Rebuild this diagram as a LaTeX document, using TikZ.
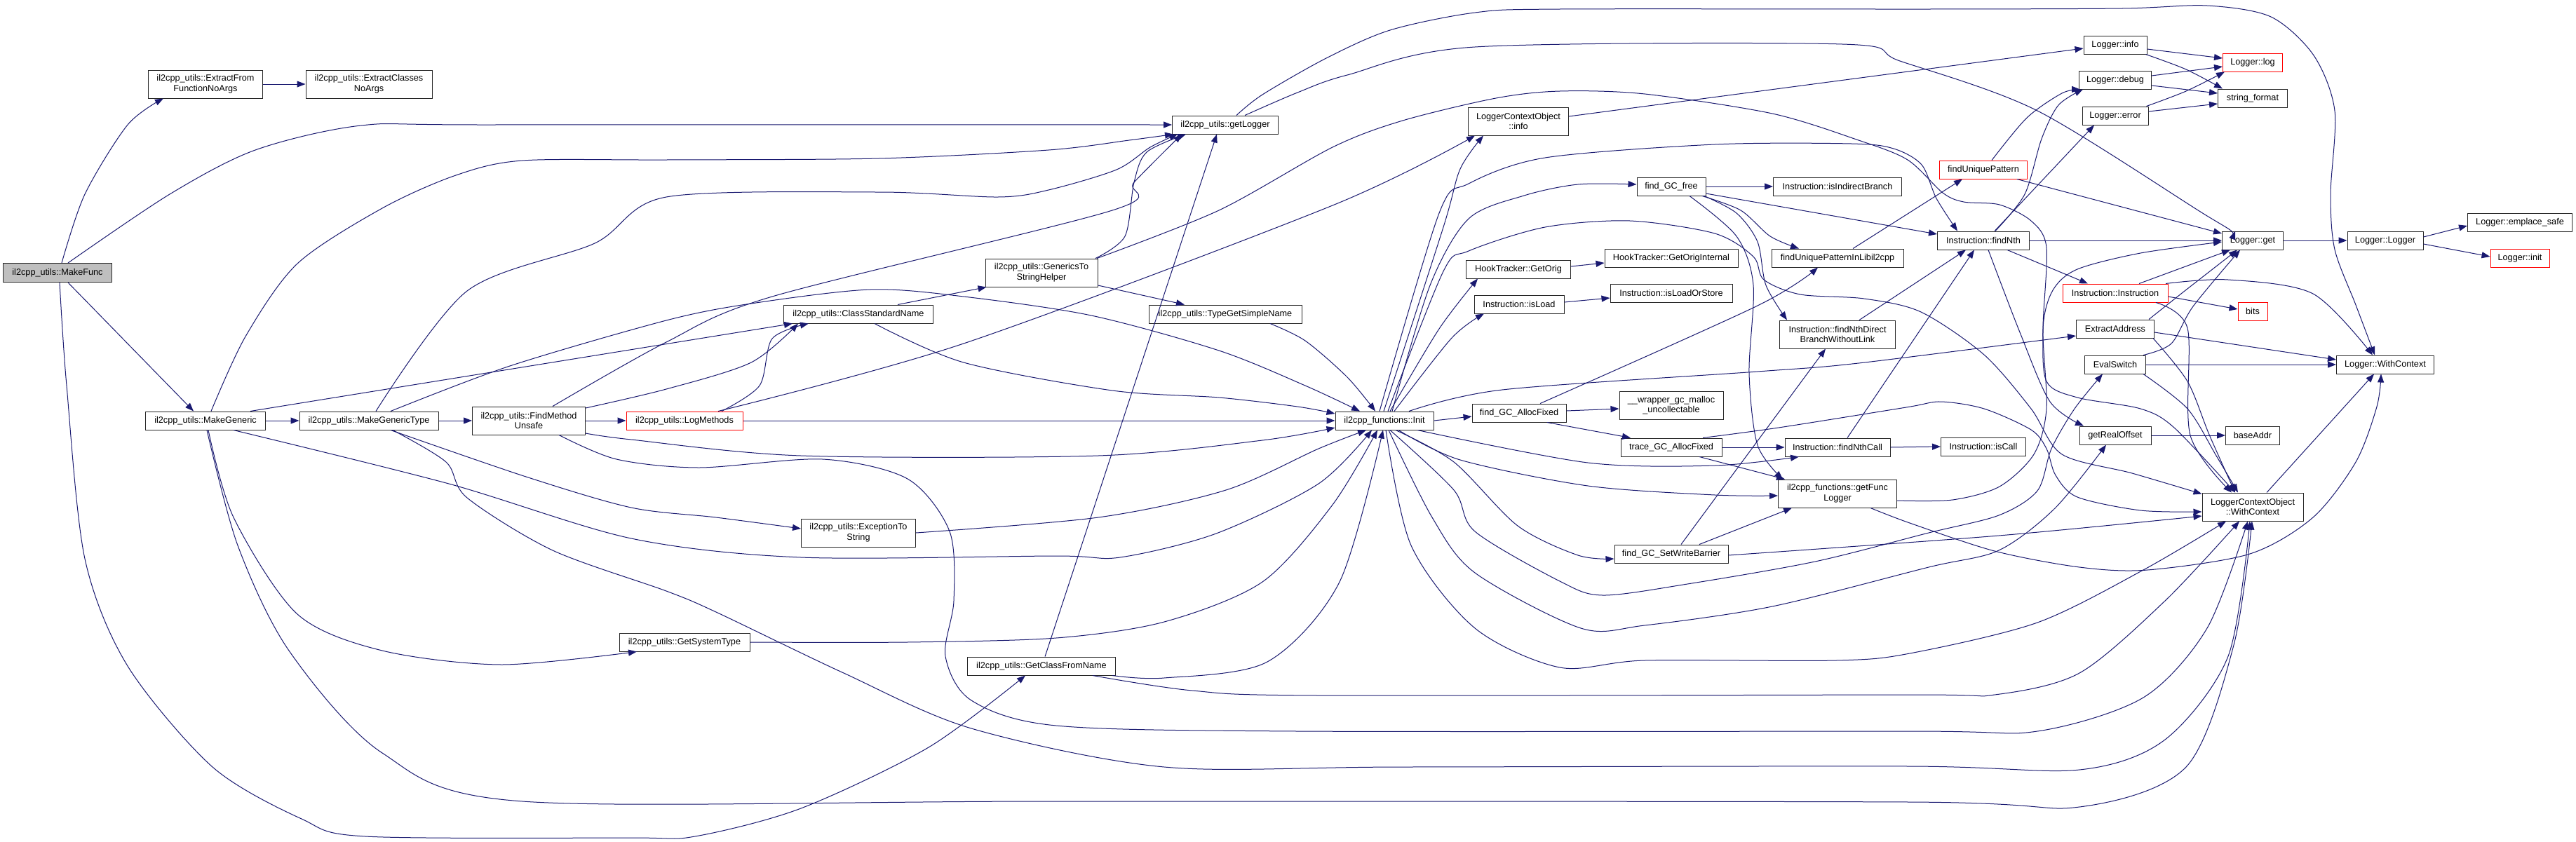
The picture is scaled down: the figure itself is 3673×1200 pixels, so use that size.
\documentclass[tikz,border=0pt]{standalone}
\usepackage{fontspec}
\newfontfamily\doxfont{Liberation Sans}
\usetikzlibrary{arrows.meta}
\definecolor{edgec}{HTML}{191970}
\definecolor{rootfill}{HTML}{BFBFBF}
\tikzset{
  nd/.style={draw=black!85, line width=1pt, fill=white, inner sep=0pt, align=center,
    minimum height=26pt, font=\doxfont\fontsize{12.7}{14.6}\selectfont, text=black},
  rnd/.style={nd, draw=red},
  rootnd/.style={nd, fill=rootfill},
  tall/.style={minimum height=40pt},
  edg/.style={draw=edgec, line width=1pt, -{Triangle[length=12pt,width=9pt]}},
}
\begin{document}
\begin{tikzpicture}[x=1pt,y=-1pt]
\fill[white] (0,0) rectangle (3673,1200);
\useasboundingbox (0,0) rectangle (3673,1200);
% nodes
\node[rootnd, minimum width=155pt, minimum height=27pt] (mf) at (82,389) {il2cpp\_utils::MakeFunc};
\node[nd, tall, minimum width=163pt] (efna) at (293,120) {il2cpp\_utils::ExtractFrom\\FunctionNoArgs};
\node[nd, tall, minimum width=180pt] (ecna) at (526,120) {il2cpp\_utils::ExtractClasses\\NoArgs};
\node[nd, minimum width=171pt] (mg) at (293,600) {il2cpp\_utils::MakeGeneric};
\node[nd, minimum width=198pt] (mgt) at (526,600) {il2cpp\_utils::MakeGenericType};
\node[nd, tall, minimum width=161pt] (fmu) at (754,600) {il2cpp\_utils::FindMethod\\Unsafe};
\node[rnd, minimum width=166pt] (lm) at (976,600) {il2cpp\_utils::LogMethods};
\node[nd, minimum width=186pt] (gst) at (976,916) {il2cpp\_utils::GetSystemType};
\node[nd, minimum width=151pt] (gl) at (1747,178) {il2cpp\_utils::getLogger};
\node[nd, minimum width=213pt] (csn) at (1224,448) {il2cpp\_utils::ClassStandardName};
\node[nd, tall, minimum width=163pt] (ets) at (1224,760) {il2cpp\_utils::ExceptionTo\\String};
\node[nd, tall, minimum width=160pt] (gtsh) at (1485,389) {il2cpp\_utils::GenericsTo\\StringHelper};
\node[nd, minimum width=211pt] (gcfn) at (1485,950) {il2cpp\_utils::GetClassFromName};
\node[nd, minimum width=218pt] (tgsn) at (1747,448) {il2cpp\_utils::TypeGetSimpleName};
\node[nd, minimum width=140pt] (init) at (1974,600) {il2cpp\_functions::Init};
\node[nd, tall, minimum width=143pt] (lcoi) at (2165,173) {LoggerContextObject\\::info};
\node[nd, minimum width=149pt] (gor) at (2165,384) {HookTracker::GetOrig};
\node[nd, minimum width=128pt] (isl) at (2166,434) {Instruction::isLoad};
\node[nd, minimum width=134pt] (fgaf) at (2166,589) {find\_GC\_AllocFixed};
\node[nd, minimum width=98pt] (fgf) at (2383,266) {find\_GC\_free};
\node[nd, minimum width=190pt] (gori) at (2383,368) {HookTracker::GetOrigInternal};
\node[nd, minimum width=174pt] (ilos) at (2383,418) {Instruction::isLoadOrStore};
\node[nd, tall, minimum width=148pt] (wgm) at (2383,578) {\_\_wrapper\_gc\_malloc\\\_uncollectable};
\node[nd, minimum width=144pt] (tgaf) at (2383,638) {trace\_GC\_AllocFixed};
\node[nd, minimum width=162pt] (fgswb) at (2383,790) {find\_GC\_SetWriteBarrier};
\node[nd, minimum width=183pt] (iib) at (2620,266) {Instruction::isIndirectBranch};
\node[nd, minimum width=188pt] (fupl) at (2620,368) {findUniquePatternInLibil2cpp};
\node[nd, tall, minimum width=165pt] (fndb) at (2620,477) {Instruction::findNthDirect\\BranchWithoutLink};
\node[nd, minimum width=150pt] (fnc) at (2620,638) {Instruction::findNthCall};
\node[nd, tall, minimum width=169pt] (gfl) at (2620,704) {il2cpp\_functions::getFunc\\Logger};
\node[rnd, minimum width=125pt] (fup) at (2828,242) {findUniquePattern};
\node[nd, minimum width=131pt] (fn) at (2828,343) {Instruction::findNth};
\node[nd, minimum width=121pt] (isc) at (2828,637) {Instruction::isCall};
\node[nd, minimum width=90pt] (li) at (3016,64) {Logger::info};
\node[nd, minimum width=103pt] (ld) at (3016,114) {Logger::debug};
\node[nd, minimum width=94pt] (le) at (3016,165) {Logger::error};
\node[rnd, minimum width=150pt] (ii) at (3016,418) {Instruction::Instruction};
\node[nd, minimum width=111pt] (ea) at (3016,469) {ExtractAddress};
\node[nd, minimum width=87pt] (es) at (3016,520) {EvalSwitch};
\node[nd, minimum width=102pt] (gro) at (3016,621) {getRealOffset};
\node[rnd, minimum width=85pt] (llog) at (3212,89) {Logger::log};
\node[nd, minimum width=99pt] (sf) at (3212,140) {string\_format};
\node[nd, minimum width=87pt] (lget) at (3212,343) {Logger::get};
\node[rnd, minimum width=42pt] (bits) at (3212,444) {bits};
\node[nd, minimum width=77pt] (ba) at (3212,621) {baseAddr};
\node[nd, tall, minimum width=144pt] (lcowc) at (3212,723) {LoggerContextObject\\::WithContext};
\node[nd, minimum width=108pt] (ll) at (3401,343) {Logger::Logger};
\node[nd, minimum width=139pt] (lwc) at (3401,520) {Logger::WithContext};
\node[nd, minimum width=149pt] (les) at (3593,317) {Logger::emplace\_safe};
\node[rnd, minimum width=84pt] (lin) at (3593,368) {Logger::init};
% edges from MakeFunc
\draw[edg] plot[smooth] coordinates {([xshift=6pt]mf.north) (121,277) (182,178) ([xshift=-60pt]efna.south)};
\draw[edg] plot[smooth] coordinates {([xshift=15pt]mf.north) (242,277) (364,214) (515,179) (700,178) (gl.west)};
\draw[edg] ([xshift=15pt]mf.south) -- ([xshift=-17pt]mg.north);
\draw[edg] plot[smooth] coordinates {([xshift=3pt]mf.south) (95,550) (121,797) (182,950) (303,1094) (430,1168) (521,1193) (900,1195) (991,1193) (1142,1153) (1324,1066) ([xshift=-23pt]gcfn.south)};
\draw[edg] (efna.east) -- (ecna.west);
% MakeGeneric
\draw[edg] (mg.east) -- (mgt.west);
\draw[edg] ([xshift=64pt]mg.north) -- ([xshift=-94pt]csn.south);
\draw[edg] plot[smooth] coordinates {([xshift=8pt]mg.north) (350,480) (424,376) (545,297) (650,250) (745,229) (950,228) (1253,226) (1495,214) (1610,200) ([xshift=2pt]gl.south west)};
\draw[edg] plot[smooth] coordinates {([xshift=4pt]mg.south) (333,738) (424,876) (545,928) (715,948) ([xshift=-68pt]gst.south)};
\draw[edg] plot[smooth] coordinates {([xshift=2pt]mg.south) (339,778) (412,928) (545,1074) (745,1143) (1500,1143) (2723,1144) (2965,1151) (3117,1094) (3185,920) ([xshift=-1pt]lcowc.south)};
\draw[edg] plot[smooth] coordinates {([xshift=40pt]mg.south) (640,690) (900,768) (1142,795) (1506,793) (1597,795) (1734,761) (1880,690) ([xshift=-18pt]init.south)};
% MakeGenericType
\draw[edg] (mgt.east) -- (fmu.west);
\draw[edg] plot[smooth] coordinates {([xshift=10pt]mgt.north) (666,415) (848,347) (950,281) (1253,274) (1423,281) (1495,271) (1592,242) (1640,210) ([xshift=8pt]gl.south west)};
\draw[edg] plot[smooth] coordinates {([xshift=31pt]mgt.north) (727,522) (950,457) (1071,433) (1241,413) (1374,423) (1556,450) (1738,500) (1861,550) ([xshift=-35pt]init.north)};
\draw[edg] plot[smooth] coordinates {([xshift=31pt]mgt.south) (750,680) (900,724) (1021,738) ([yshift=6pt]ets.west)};
\draw[edg] plot[smooth] coordinates {([xshift=34pt]mgt.south) (636,659) (666,710) (788,785) (950,843) (1021,873) (1203,960) (1385,1039) (1660,1094) (2000,1094) (2723,1093) (2965,1098) (3087,1055) (3177,936) ([xshift=-4pt]lcowc.south)};
% FindMethodUnsafe
\draw[edg] (fmu.east) -- (lm.west);
\draw[edg] plot[smooth] coordinates {([xshift=34pt]fmu.north) (950,488) (1101,423) (1586,300) (1617,260) ([xshift=14pt]gl.south west)};
\draw[edg] plot[smooth] coordinates {([yshift=18pt]fmu.east) (950,555) (1071,517) ([xshift=-86pt]csn.south)};
\draw[edg] plot[smooth] coordinates {([yshift=-18pt]fmu.east) (900,627) (1142,650) (1566,650) (1800,628) ([yshift=-10pt]init.west)};
\draw[edg] plot[smooth] coordinates {([xshift=43pt]fmu.south) (879,655) (997,667) (1173,655) (1294,683) (1354,758) (1360,857) (1348,936) (1385,999) (1506,1035) (1850,1043) (2723,1043) (2905,1043) (3056,995) (3147,896) ([xshift=-7pt]lcowc.south)};
% LogMethods
\draw[edg] (lm.east) -- (init.west);
\draw[edg] plot[smooth] coordinates {([xshift=53pt]lm.north) (1083,550) (1101,483) ([xshift=-71pt]csn.south)};
\draw[edg] plot[smooth] coordinates {([xshift=48pt]lm.north) (1374,490) (1900,293) ([xshift=-62pt]lcoi.south)};
% GetSystemType
\draw[edg] plot[smooth] coordinates {(gst.east) (1293,916) (1506,910) (1660,887) (1800,830) (1900,720) ([xshift=-10pt]init.south)};
% ClassStandardName
\draw[edg] ([xshift=56pt]csn.north) -- ([xshift=2pt]gtsh.south west);
\draw[edg] plot[smooth] coordinates {([xshift=23pt]csn.south) (1374,517) (1586,557) (1738,567) (1850,580) ([yshift=10pt]init.west)};
% GenericsToStringHelper
\draw[edg] ([yshift=-18pt]gtsh.east) -- ([xshift=-58pt]tgsn.north);
\draw[edg] plot[smooth] coordinates {([xshift=77pt]gtsh.north) (1604,337) (1617,260) (1635,217) ([xshift=20pt]gl.south west)};
\draw[edg] plot[smooth] coordinates {([xshift=79pt]gtsh.north) (1738,300) (1900,210) (2000,172) (2133,140) (2224,130) (2345,134) (2527,162) (2650,200) (2720,228) (2770,275) (2800,288) (2851,292) (2896,315) (2918,353) (2913,468) (2918,544) (2962,567) (3052,583) (3100,610) ([xshift=-25pt]lcowc.north)};
% TypeGetSimpleName
\draw[edg] plot[smooth] coordinates {([xshift=64pt]tgsn.south) (1861,486) (1921,538) ([xshift=-13pt]init.north)};
% GetClassFromName
\draw[edg] plot[smooth] coordinates {([xshift=-5pt]gcfn.south east) (1660,967) (1807,944) (1910,830) ([xshift=-2pt]init.south)};
\draw[edg] ([xshift=5pt]gcfn.north) -- ([xshift=-12pt]gl.south);
\draw[edg] plot[smooth] coordinates {([xshift=-33pt]gcfn.south east) (1700,985) (1880,992) (2723,991) (2844,991) (2965,960) (3087,857) ([xshift=-19pt]lcowc.south)};
% ExceptionToString
\draw[edg] plot[smooth] coordinates {(ets.east) (1566,738) (1748,699) (1880,640) ([xshift=-26pt]init.south)};
% Init
\draw[edg] plot[smooth] coordinates {([xshift=-1pt]init.north) (2058,324) (2082,241) ([xshift=-50pt]lcoi.south)};
\draw[edg] plot[smooth] coordinates {([xshift=11pt]init.north) (2039,407) (2094,312) (2173,279) (2250,263) ([yshift=3pt]fgf.west)};
\draw[edg] plot[smooth] coordinates {([xshift=8pt]init.north) (2052,469) ([xshift=-58pt]gor.south)};
\draw[edg] plot[smooth] coordinates {([xshift=14pt]init.north) (2070,482) ([xshift=-50pt]isl.south)};
\draw[edg] (init.east) -- ([yshift=-5pt]fgaf.west);
\draw[edg] plot[smooth] coordinates {([xshift=47pt]init.south) (2264,660) (2445,664) ([xshift=-55pt]fnc.south)};
\draw[edg] plot[smooth] coordinates {([xshift=20pt]init.south) (2082,656) (2264,693) (2445,706) ([yshift=-3pt]gfl.west)};
\draw[edg] plot[smooth] coordinates {([xshift=16pt]init.south) (2073,659) (2164,750) (2250,792) ([yshift=-7pt]fgswb.west)};
\draw[edg] plot[smooth] coordinates {([xshift=8pt]init.south) (2073,699) (2103,758) (2224,829) (2285,849) (2406,833) (2588,801) (2750,760) (2850,735) (2905,700) (2925,640) (2958,583) ([xshift=-18pt]es.south)};
\draw[edg] plot[smooth] coordinates {([xshift=6pt]init.south) (2042,738) (2103,817) (2254,896) (2345,892) (2527,865) (2750,809) (2850,785) (2930,725) ([xshift=-13pt]gro.south)};
\draw[edg] plot[smooth] coordinates {([xshift=2pt]init.south) (2012,778) (2103,896) (2224,952) (2345,942) (2618,942) (2723,932) (2905,888) (3056,813) ([xshift=-38pt]lcowc.south)};
\draw[edg] plot[smooth] coordinates {([xshift=35pt]init.north) (2142,556) (2506,530) (2650,518) ([yshift=-10pt]ea.west)};
\draw[edg] plot[smooth] coordinates {([xshift=-7pt]init.north) (2052,304) (2094,262) (2203,225) (2445,206) (2640,205) (2700,212) (2740,235) (2761,283) ([xshift=-37pt]fn.north)};
\draw[edg] plot[smooth] coordinates {([xshift=5pt]init.north) (2058,387) (2094,358) (2203,324) (2324,315) (2445,333) (2500,366) (2515,399) (2567,420) (2658,426) (2739,445) (2829,506) (2896,583) (2940,648) (3040,675) ([yshift=-2pt]lcowc.north west)};
% find_GC_free
\draw[edg] (fgf.east) -- (iib.west);
\draw[edg] ([yshift=-10pt]fgf.east) -- ([yshift=9pt]fn.west);
\draw[edg] plot[smooth] coordinates {([xshift=44pt]fgf.south) (2482,300) (2524,337) ([xshift=-55pt]fupl.north)};
\draw[edg] plot[smooth] coordinates {([xshift=47pt]fgf.south) (2476,304) (2506,345) (2518,407) ([xshift=-72pt]fndb.north)};
\draw[edg] plot[smooth] coordinates {([xshift=26pt]fgf.south) (2476,337) (2500,407) (2494,532) (2506,635) ([xshift=-78pt]gfl.north)};
% misc middle
\draw[edg] ([yshift=4pt]gor.east) -- ([yshift=-7pt]gori.west);
\draw[edg] ([yshift=3pt]isl.east) -- ([yshift=-7pt]ilos.west);
\draw[edg] ([yshift=3pt]fgaf.east) -- ([yshift=-5pt]wgm.west);
\draw[edg] ([xshift=40pt]fgaf.south) -- ([xshift=-58pt]tgaf.north);
\draw[edg] plot[smooth] coordinates {([xshift=30pt]fgaf.north) (2506,436) ([xshift=-28pt]fupl.south)};
\draw[edg] (tgaf.east) -- (fnc.west);
\draw[edg] ([xshift=40pt]tgaf.south) -- ([xshift=-75pt]gfl.north);
\draw[edg] plot[smooth] coordinates {([xshift=45pt]tgaf.north) (2536,610) (2718,581) (2767,573) (2829,583) (2896,613) (2918,640) (2931,678) (2962,709) (3052,728) ([yshift=-7pt]lcowc.west)};
\draw[edg] ([xshift=40pt]fgswb.north) -- ([xshift=-65pt]gfl.south);
\draw[edg] ([xshift=14pt]fgswb.north) -- ([xshift=-17pt]fndb.south);
\draw[edg] plot[smooth] coordinates {([yshift=-2pt]fgswb.east) (2850,764) ([yshift=-13pt]lcowc.west)};
\draw[edg] (fnc.east) -- (isc.west);
\draw[edg] ([xshift=14pt]fnc.north) -- ([xshift=-13pt]fn.south);
\draw[edg] ([xshift=31pt]fndb.north) -- ([xshift=-25pt]fn.south);
\draw[edg] ([xshift=22pt]fupl.north) -- ([xshift=-30pt]fup.south);
\draw[edg] plot[smooth] coordinates {([yshift=-10pt]gfl.east) (2784,713) (2851,694) (2900,648) (2918,583) (2913,468) (2927,414) (2962,384) (3052,361) ([yshift=-2pt]lget.west)};
\draw[edg] plot[smooth] coordinates {([xshift=47pt]gfl.south) (2723,746) (2844,786) (2965,809) (3062,813) (3208,790) (3298,738) (3359,659) (3389,580) ([xshift=-6pt]lwc.south)};
% right part
\draw[edg] ([xshift=48pt]fup.south) -- ([yshift=10pt]lget.west);
\draw[edg] plot[smooth] coordinates {([xshift=12pt]fup.north) (2890,168) (2940,133) ([xshift=2pt]ld.south west)};
\draw[edg] plot[smooth] coordinates {([xshift=17pt]fn.north) (2887,277) (2911,198) (2935,150) ([xshift=6pt]ld.south west)};
\draw[edg] ([xshift=16pt]fn.north) -- ([xshift=-30pt]le.south);
\draw[edg] (fn.east) -- (lget.west);
\draw[edg] ([xshift=34pt]fn.south) -- ([xshift=-39pt]ii.north);
\draw[edg] plot[smooth] coordinates {([xshift=7pt]fn.south) (2880,474) (2923,573) ([xshift=-45pt]gro.north)};
\draw[edg] ([xshift=34pt]ii.north) -- ([xshift=-32pt]lget.south);
\draw[edg] ([yshift=-5pt]ii.east) -- ([yshift=3pt]bits.west);
\draw[edg] plot[smooth] coordinates {([xshift=72pt]ii.north) (3177,399) (3298,419) ([xshift=-18pt]lwc.north)};
\draw[edg] plot[smooth] coordinates {([xshift=58pt]ii.south) (3119,468) (3123,621) ([xshift=-30pt]lcowc.north)};
\draw[edg] plot[smooth] coordinates {([xshift=48pt]ea.north) (3115,415) ([xshift=-22pt]lget.south)};
\draw[edg] ([yshift=-5pt]ea.east) -- ([yshift=7pt]lwc.west);
\draw[edg] plot[smooth] coordinates {([xshift=54pt]ea.south) (3119,544) (3150,620) ([xshift=-25pt]lcowc.north)};
\draw[edg] plot[smooth] coordinates {([xshift=40pt]es.north) (3096,490) (3127,437) ([xshift=-18pt]lget.south)};
\draw[edg] (es.east) -- (lwc.west);
\draw[edg] plot[smooth] coordinates {([xshift=40pt]es.south) (3119,583) (3160,650) ([xshift=-21pt]lcowc.north)};
\draw[edg] (gro.east) -- (ba.west);
\draw[edg] ([xshift=20pt]lcowc.north) -- ([xshift=-16pt]lwc.south);
\draw[edg] (lget.east) -- (ll.west);
\draw[edg] ([yshift=5pt]ll.east) -- ([yshift=-5pt]les.west);
\draw[edg] ([yshift=-5pt]ll.east) -- ([yshift=2pt]lin.west);
\draw[edg] ([yshift=7pt]lcoi.east) -- ([yshift=-5pt]li.west);
\draw[edg] ([yshift=-6pt]li.east) -- ([yshift=6pt]llog.west);
\draw[edg] plot[smooth] coordinates {([xshift=-2pt]li.south east) (3117,99) ([xshift=7pt]sf.north west)};
\draw[edg] ([yshift=6pt]ld.east) -- ([yshift=-6pt]llog.west);
\draw[edg] ([yshift=-8pt]ld.east) -- ([yshift=7pt]sf.west);
\draw[edg] plot[smooth] coordinates {([xshift=-3pt]le.north east) (3117,130) ([xshift=3pt]llog.south west)};
\draw[edg] ([yshift=6pt]le.east) -- ([yshift=-8pt]sf.west);
% getLogger
\draw[edg] plot[smooth] coordinates {([xshift=16pt]gl.north) (1800,135) (1891,83) (1982,43) (2103,18) (2224,13) (2750,13) (3026,12) (3147,8) (3238,24) (3299,79) (3329,158) (3323,277) (3329,356) (3359,435) ([xshift=-15pt]lwc.north)};
\draw[edg] plot[smooth] coordinates {([xshift=28pt]gl.north) (1850,132) (1921,107) (2103,67) (2627,63) (2709,87) (2905,158) (3147,308) ([xshift=-25pt]lget.north)};
\end{tikzpicture}
\end{document}
